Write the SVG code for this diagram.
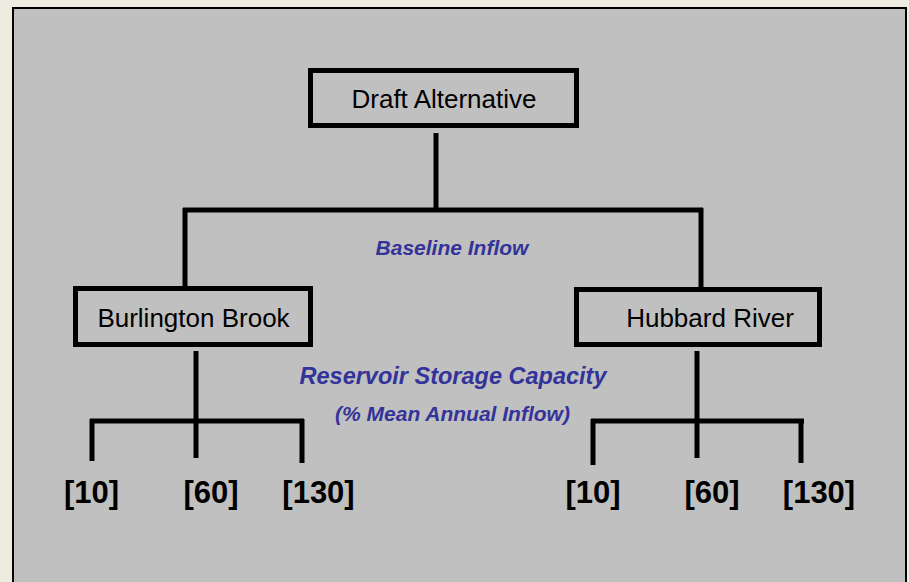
<svg xmlns="http://www.w3.org/2000/svg" width="909" height="582" viewBox="0 0 909 582">
<style>
.box{fill:none;stroke:#000;stroke-width:5}
.ln{stroke:#000;stroke-width:5;fill:none;stroke-linecap:butt}
.t{font-family:"Liberation Sans",Arial,sans-serif;font-size:26px;fill:#000;text-anchor:middle}
.n{font-family:"Liberation Sans",Arial,sans-serif;font-size:31px;font-weight:bold;fill:#000;text-anchor:middle}
.b{font-family:"Liberation Sans",Arial,sans-serif;font-weight:bold;font-style:italic;fill:#333399;text-anchor:middle}
</style>
<rect x="0" y="0" width="909" height="582" fill="#EEEBE0"/>
<rect x="13" y="8" width="893" height="580" fill="#C0C0C0" stroke="#000" stroke-width="2"/>
<g id="connectors">
<path class="ln" d="M436 133V210M183 210H703M185 208V288M701 208V288"/>
<path class="ln" d="M196 351V458M90 421H304M92 419V461M302 419V463"/>
<path class="ln" d="M697 351V458M591 421H804M593 419V465M801 419V463"/>
</g>
<g id="draft"><rect class="box" x="310.5" y="70.5" width="266" height="55"/><text class="t" x="444" y="108">Draft Alternative</text></g>
<g id="burlington"><rect class="box" x="75.5" y="288.5" width="235" height="56"/><text class="t" x="193.5" y="327">Burlington Brook</text></g>
<g id="hubbard"><rect class="box" x="576.5" y="289.5" width="243" height="55"/><text class="t" x="710" y="327">Hubbard River</text></g>
<g id="labels">
<text class="b" x="452" y="255" font-size="21">Baseline Inflow</text>
<text class="b" x="453" y="384" font-size="23.5">Reservoir Storage Capacity</text>
<text class="b" x="452.5" y="421" font-size="21">(% Mean Annual Inflow)</text>
</g>
<g id="b10"><text class="n" x="91.5" y="503">[10]</text></g>
<g id="b60"><text class="n" x="211" y="503">[60]</text></g>
<g id="b130"><text class="n" x="318.5" y="503">[130]</text></g>
<g id="h10"><text class="n" x="593" y="503">[10]</text></g>
<g id="h60"><text class="n" x="712" y="503">[60]</text></g>
<g id="h130"><text class="n" x="819" y="503">[130]</text></g>
</svg>
